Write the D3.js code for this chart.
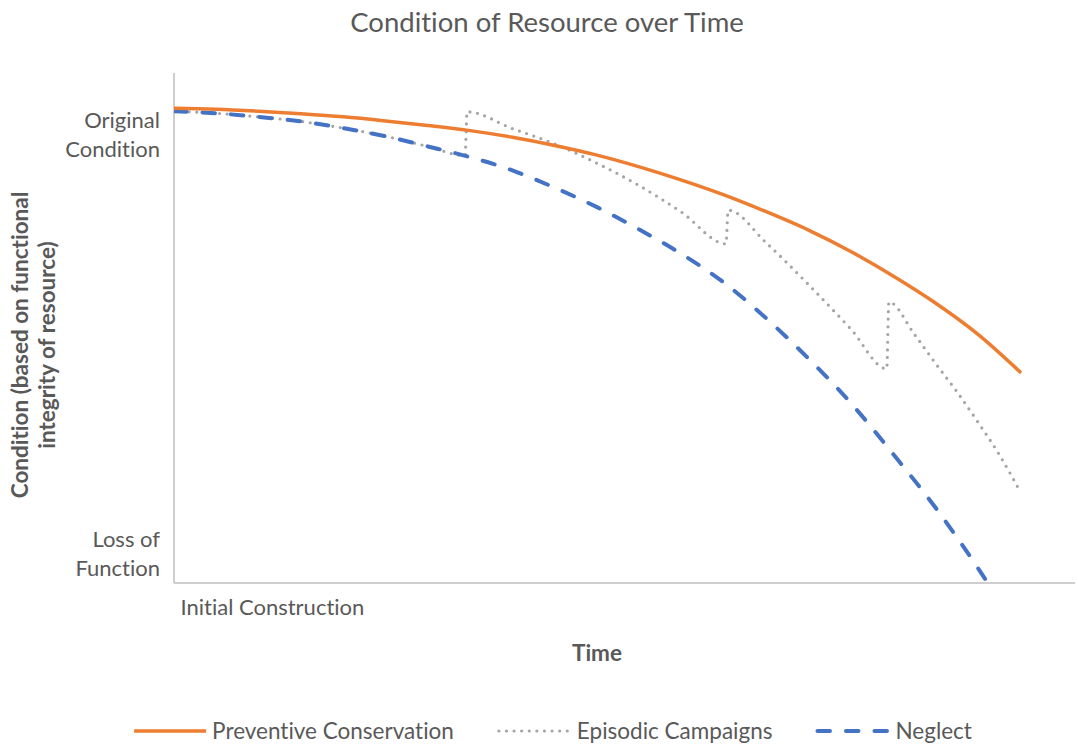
<!DOCTYPE html>
<html>
<head>
<meta charset="utf-8">
<script src="https://cdn.jsdelivr.net/npm/d3@7"></script>
<style>
  body { margin: 0; background: #ffffff; }
  svg { display: block; }
  text {
    font-family: Lato, "Open Sans", "Noto Sans", sans-serif;
    fill: #595959;
    font-variant-ligatures: none;
    font-feature-settings: "liga" 0, "clig" 0;
  }
</style>
</head>
<body>
<svg id="chart" width="1078" height="745"></svg>
<script>
// Time runs from initial construction (0) to the end of the period (20)
const timeSteps = d3.range(0, 21);

// Condition index: 0 = loss of function, 100 = top of the axis
const preventive = [93.1, 92.9, 92.5, 92.0, 91.4, 90.6, 89.7, 88.7, 87.4, 85.8, 83.9,
                    81.6, 79.0, 76.1, 72.8, 69.2, 65.0, 60.2, 54.9, 48.8, 41.4];
const neglect    = [92.5, 92.1, 91.4, 90.5, 89.2, 87.6, 85.6, 83.5, 80.9, 77.5, 73.7,
                    69.3, 64.5, 58.9, 51.9, 44.0, 35.3, 25.3, 14.8, 3.0, -10.0];

// Episodic campaigns: follows neglect, then jumps back up at each campaign
const episodicTime      = [0, 1, 2, 3, 4, 5, 6, 6.88,
                           6.93, 8, 9, 10, 11, 12, 13.05,
                           13.1, 14, 15, 16, 16.85,
                           16.9, 17.5, 18, 18.5, 19, 19.5, 20];
const episodicCondition = [92.5, 92.1, 91.4, 90.5, 89.2, 87.6, 85.6, 83.8,
                           92.4, 89.1, 86.1, 82.3, 77.9, 72.7, 66.5,
                           73.1, 66.7, 58.5, 49.8, 42.0,
                           55.1, 48.8, 43.1, 37.6, 31.6, 25.3, 18.0];

const yTickValues = [88, 5.8];
const yTickLabels = [["Original", "Condition"], ["Loss of", "Function"]];
const xTickValues = [0];
const xTickLabels = ["Initial Construction"];

const seriesNames  = ["Preventive Conservation", "Episodic Campaigns", "Neglect"];
const seriesColors = ["#ED7D31", "#A5A5A5", "#4472C4"];

const svg = d3.select("#chart");
const W = 1078, H = 745;
const margin = { left: 174, right: 3, top: 73, bottom: 162 };
const plotW = W - margin.left - margin.right;
const plotH = H - margin.top - margin.bottom;

const x = d3.scaleLinear().domain([0, 21.3]).range([margin.left, margin.left + plotW]);
const y = d3.scaleLinear().domain([0, 100]).range([margin.top + plotH, margin.top]);

const labelSize = "22px";
const titleBoldSize = "22.5px";

// Title
svg.append("text")
  .attr("x", 547).attr("y", 22).attr("dy", "0.35em")
  .attr("text-anchor", "middle")
  .style("font-size", "27.5px")
  .text("Condition of Resource over Time");

// Axes
const axisColor = "#BFBFBF";
const yAxis = d3.axisLeft(y).tickValues(yTickValues).tickSize(0).tickPadding(14)
  .tickFormat(() => "");
const gy = svg.append("g").attr("transform", `translate(${margin.left},0)`).call(yAxis);
gy.select(".domain").attr("stroke", axisColor).attr("stroke-width", 1.5)
  .attr("d", `M0,${y(0)}V${margin.top}`);
gy.selectAll(".tick text").each(function (d, i) {
  const t = d3.select(this).attr("dy", null).style("font-size", labelSize).attr("fill", "#595959");
  const lines = yTickLabels[i];
  const lh = 1.33;
  lines.forEach((ln, j) => {
    t.append("tspan").attr("x", -14)
      .attr("dy", j === 0 ? `${-(lines.length - 1) * 0.5 * lh + 0.35}em` : `${lh}em`)
      .text(ln);
  });
});

const xAxis = d3.axisBottom(x).tickValues(xTickValues).tickSize(0).tickPadding(16)
  .tickFormat((d, i) => xTickLabels[i]);
const gx = svg.append("g").attr("transform", `translate(0,${y(0)})`).call(xAxis);
gx.select(".domain").attr("stroke", axisColor).attr("stroke-width", 1.5)
  .attr("d", `M${margin.left},0H${margin.left + plotW}`);
gx.selectAll(".tick text").attr("text-anchor", "start").attr("dx", "6")
  .attr("fill", "#595959").style("font-size", labelSize);

// Axis titles
svg.append("text")
  .attr("x", 597).attr("y", 653).attr("dy", "0.35em")
  .attr("text-anchor", "middle")
  .style("font-size", titleBoldSize).style("font-weight", "bold").attr("fill", "#404040")
  .text("Time");

const yTitle = svg.append("text")
  .attr("transform", "translate(33.5,345) rotate(-90)")
  .attr("text-anchor", "middle")
  .style("font-size", titleBoldSize).style("font-weight", "bold").attr("fill", "#404040");
yTitle.append("tspan").attr("x", 0).attr("dy", "-0.25em").text("Condition (based on functional");
yTitle.append("tspan").attr("x", 0).attr("dy", "1.2em").text("integrity of resource)");

// Plot clip
svg.append("clipPath").attr("id", "plot-clip")
  .append("rect").attr("x", margin.left).attr("y", margin.top)
  .attr("width", plotW).attr("height", plotH);

const plot = svg.append("g").attr("clip-path", "url(#plot-clip)");

const line = d3.line().x(d => x(d[0])).y(d => y(d[1])).curve(d3.curveMonotoneX);

const styles = [
  { width: 3.5, dash: null, cap: "round" },
  { width: 3.2, dash: "0 7.6", cap: "round" },
  { width: 4, dash: "12.5 16", cap: "round" }
];

const seriesData = [
  timeSteps.map((t, i) => [t, preventive[i]]),
  episodicTime.map((t, i) => [t, episodicCondition[i]]),
  timeSteps.map((t, i) => [t, neglect[i]])
];

// Draw order: episodic beneath, then neglect, then preventive on top
[1, 2, 0].forEach(k => {
  plot.append("path")
    .attr("d", line(seriesData[k]))
    .attr("fill", "none")
    .attr("stroke", seriesColors[k])
    .attr("stroke-width", styles[k].width)
    .attr("stroke-linecap", styles[k].cap)
    .attr("stroke-linejoin", "round")
    .attr("stroke-dasharray", styles[k].dash);
});

// Legend
const legY = 731, swatchW = 72, swatchGap = 6, itemGap = 45, legCenter = 553;
const leg = svg.append("g");
const items = seriesNames.map((name, k) => {
  const g = leg.append("g");
  g.append("line").attr("x1", 0).attr("x2", swatchW).attr("y1", legY).attr("y2", legY)
    .attr("stroke", seriesColors[k]).attr("stroke-width", styles[k].width)
    .attr("stroke-linecap", k === 0 ? "butt" : styles[k].cap)
    .attr("stroke-dasharray", styles[k].dash);
  const t = g.append("text").attr("x", swatchW + swatchGap).attr("y", legY).attr("dy", "0.35em")
    .style("font-size", "22.5px").text(name);
  return { g, w: swatchW + swatchGap + t.node().getComputedTextLength() };
});
const total = d3.sum(items, d => d.w) + itemGap * (items.length - 1);
let cx = legCenter - total / 2;
items.forEach(it => { it.g.attr("transform", `translate(${cx},0)`); cx += it.w + itemGap; });
</script>
</body>
</html>
